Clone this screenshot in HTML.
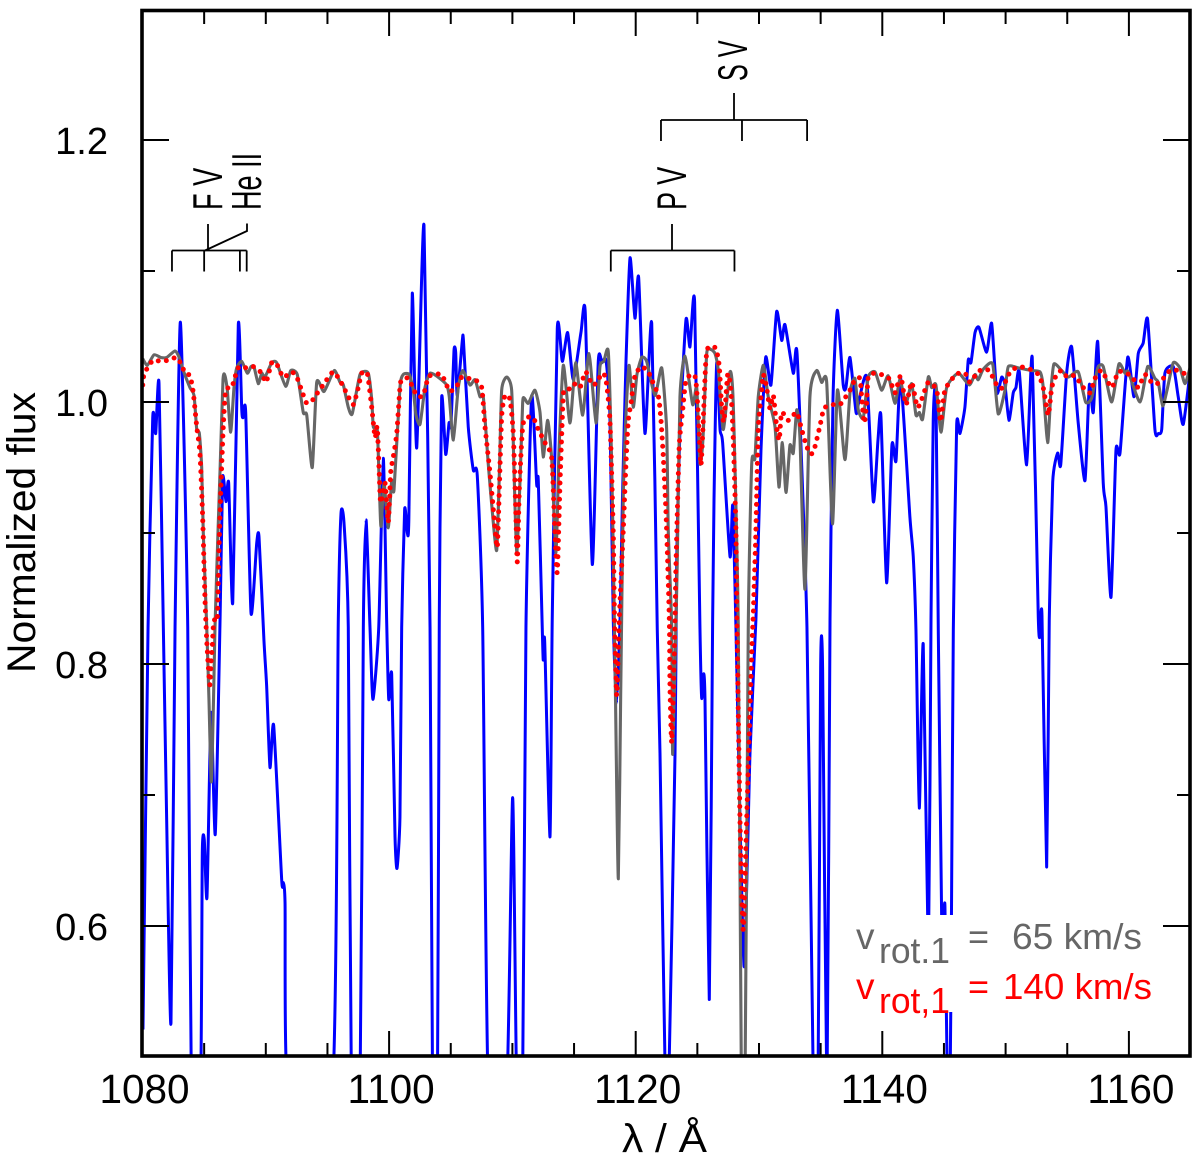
<!DOCTYPE html>
<html lang="en">
<head>
<meta charset="utf-8">
<title>Normalized flux spectrum</title>
<style>
html,body{margin:0;padding:0;background:#fff;width:1200px;height:1160px;overflow:hidden}
svg{display:block}
text{font-family:"Liberation Sans",sans-serif}
</style>
</head>
<body>
<svg id="chart" xmlns="http://www.w3.org/2000/svg" width="1200" height="1160" viewBox="0 0 1200 1160">
  <defs>
    <clipPath id="plot-clip"><rect x="142" y="11" width="1048" height="1045"/></clipPath>
  </defs>
  <rect x="0" y="0" width="1200" height="1160" fill="#fff"/>
  <g clip-path="url(#plot-clip)">
    <path id="series-blue" fill="none" stroke="#0000ff" stroke-width="3" stroke-linejoin="round"/>
    <path id="series-gray" fill="none" stroke="#666666" stroke-width="3.1" stroke-linejoin="round"/>
    <path id="series-red" fill="none" stroke="#ff0000" stroke-width="5" stroke-linecap="round" stroke-linejoin="round" stroke-dasharray="0 8.2"/>
  </g>
  <rect x="855" y="915" width="300" height="97" fill="#fff"/>
  <g id="ticks"></g>
  <g id="annotations"></g>
  <rect x="142" y="10.5" width="1048" height="1045.5" fill="none" stroke="#000" stroke-width="3.6"/>

  <text transform="translate(222,210) rotate(-90) scale(0.645,1)" font-size="42" fill="#000">F V</text>
  <text transform="translate(261,210) rotate(-90) scale(0.645,1)" font-size="42" fill="#000">He II</text>
  <text transform="translate(686,210) rotate(-90) scale(0.645,1)" font-size="42" fill="#000">P V</text>
  <text transform="translate(747,81) rotate(-90) scale(0.6,1)" font-size="42" fill="#000">S V</text>

  <text transform="translate(35,673) rotate(-90)" font-size="40" textLength="281" lengthAdjust="spacingAndGlyphs" fill="#000">Normalized flux</text>
  <text x="622" y="1152" font-size="40" textLength="85" lengthAdjust="spacingAndGlyphs" fill="#000">λ / Å</text>

  <g fill="#666666">
    <text x="856" y="949" font-size="37">v</text>
    <text x="879" y="963" font-size="36" textLength="71" lengthAdjust="spacingAndGlyphs">rot.1</text>
    <text x="968" y="949" font-size="36">=</text>
    <text x="1012" y="949" font-size="36" textLength="130" lengthAdjust="spacingAndGlyphs">65 km/s</text>
  </g>
  <g fill="#ff0000">
    <text x="856" y="999" font-size="37">v</text>
    <text x="879" y="1013" font-size="36" textLength="71" lengthAdjust="spacingAndGlyphs">rot,1</text>
    <text x="968" y="999" font-size="36">=</text>
    <text x="1003" y="999" font-size="36" textLength="149" lengthAdjust="spacingAndGlyphs">140 km/s</text>
  </g>
</svg>
<script>
const blueWave = [
1080.04,1080.45,1080.83,1081.07,1081.34,1081.69,1081.96,1082.31,1082.64,1083.07,
1083.67,1083.97,1084.70,1084.85,1085.01,1085.23,1085.56,1085.90,1086.29,1086.50,
1086.77,1086.99,1087.32,1087.77,1088.05,1088.15,1088.37,1088.80,1089.26,1089.45,
1089.85,1090.07,1090.34,1090.64,1091.29,1091.42,1091.56,1091.84,1095.37,1095.88,
1096.10,1096.34,1096.69,1096.95,1097.64,1097.91,1098.13,1098.45,1098.69,1099.16,
1099.53,1099.80,1099.97,1100.21,1100.48,1100.64,1100.88,1101.02,1101.26,1101.48,
1101.60,1101.88,1102.24,1102.83,1103.32,1103.53,1103.92,1104.07,1104.26,1104.59,
1104.86,1105.02,1105.26,1105.40,1105.53,1105.94,1106.03,1106.42,1106.83,1107.15,
1107.59,1108.06,1109.52,1110.02,1110.36,1110.82,1111.10,1111.56,1111.97,1112.10,
1112.42,1112.50,1112.62,1113.05,1113.23,1113.64,1114.05,1114.48,1114.94,1115.56,
1115.91,1116.48,1116.96,1117.26,1117.59,1117.91,1118.18,1118.46,1118.73,1118.93,
1119.21,1119.54,1119.94,1120.24,1120.75,1121.30,1121.75,1121.97,1122.42,1122.66,
1123.19,1123.32,1123.59,1124.08,1124.40,1124.78,1125.21,1125.35,1125.48,1125.62,
1125.97,1126.24,1126.35,1126.57,1126.84,1127.05,1127.65,1127.87,1128.13,1128.46,
1128.81,1129.27,1129.75,1130.16,1130.54,1130.97,1131.43,1131.84,1132.11,1132.78,
1133.10,1133.89,1134.42,1134.78,1135.00,1135.16,1135.51,1135.76,1136.00,1136.35,
1136.83,1137.05,1137.38,1137.87,1138.07,1138.73,1139.27,1139.65,1139.89,1140.35,
1140.78,1141.11,1141.49,1142.24,1142.51,1142.73,1143.00,1143.32,1143.74,1143.95,
1144.13,1144.35,1144.54,1144.81,1144.92,1145.08,1145.29,1145.49,1145.61,1145.76,
1146.03,1146.30,1146.70,1146.97,1147.19,1147.52,1147.84,1148.46,1148.87,1149.28,
1149.68,1149.95,1150.27,1150.62,1150.84,1151.11,1151.71,1152.16,1152.65,1152.79,
1152.95,1153.33,1153.54,1153.82,1154.22,1154.47,1154.95,1155.36,1155.89,1156.44,
1156.79,1157.11,1157.47,1157.92,1158.14,1158.55,1158.95,1159.28,1159.90,1160.41,
1160.76,1161.16,1161.52,1162.11,1162.38,1162.66,1162.92,1163.60,1164.00,1164.41,
1165.01];
const blueFlux = [
.521,.828,.988,.976,1.014,.828,.681,.526,.828,1.061,
.828,.47,.47,.656,.666,.622,.763,.670,.834,.942,
.924,.938,.847,1.059,.994,.988,.992,.839,.892,.897,
.818,.783,.721,.753,.635,.633,.618,.47,.47,.834,
.915,.908,.828,.47,.47,.828,.910,.828,.773,.828,
.957,.834,.773,.792,.668,.644,.683,.828,.918,.900,
.910,1.083,.965,1.135,.828,.47,.47,.834,1.003,.960,
.984,.982,1.039,1.038,1.005,1.047,1.047,.981,.948,.944,
.828,.47,.47,.698,.47,.47,.828,1.004,.937,.940,
.828,.803,.817,.668,.834,1.056,1.031,1.053,1.017,1.053,
1.068,.876,1.030,1.030,1.032,.989,.834,.770,.834,.928,
1.030,1.110,1.064,1.095,.976,1.060,.826,.732,.47,.47,
.732,.877,.979,1.063,1.042,1.076,.828,.774,.792,.773,
.544,.834,.925,1.030,.979,.969,.882,.921,.828,.681,
.569,.732,.834,.963,1.034,1.013,1.069,1.047,1.059,1.022,
1.035,.828,.47,.47,.798,.796,.47,.834,1.002,1.070,
1.013,1.011,1.034,.992,.999,1.019,.924,.971,.989,.862,
.967,.955,1.018,.912,.882,.826,.690,.815,.574,.834,
.986,1.007,.826,.609,.593,.615,.47,.47,.609,.826,
.982,.976,.996,1.032,1.030,1.053,1.057,1.038,1.060,1.007,
1.019,1.013,.986,1.007,1.011,1.023,.952,1.034,.836,.821,
.837,.645,.834,.939,.961,.952,1.022,1.042,.984,.940,
1.013,.992,1.046,.938,.920,.851,.963,.961,1.034,1.004,
1.037,1.045,1.063,.979,.976,.979,1.022,1.027,1.004,.983,
1.027];
const grayWave = [
1080.02,1080.39,1080.93,1081.48,1081.96,1082.64,1082.98,1083.31,1083.85,1084.18,
1084.40,1084.61,1084.80,1084.93,1085.21,1085.39,1085.58,1085.76,1085.88,1086.12,
1086.29,1086.53,1086.69,1086.88,1087.15,1087.42,1087.64,1088.05,1088.50,1088.80,
1089.04,1089.39,1089.67,1089.93,1090.48,1090.88,1091.61,1092.02,1092.55,1093.04,
1093.32,1093.77,1094.13,1094.72,1095.55,1096.02,1096.29,1096.69,1097.01,1097.64,
1098.31,1098.59,1098.72,1099.04,1099.20,1099.34,1099.59,1099.93,1100.21,1100.40,
1100.88,1101.15,1101.64,1101.96,1102.18,1102.51,1102.91,1103.32,1103.97,1104.67,
1104.88,1105.21,1105.61,1105.97,1106.56,1106.97,1107.37,1107.64,1108.04,1108.43,
1108.73,1108.95,1109.13,1109.54,1109.94,1110.13,1110.35,1110.62,1110.83,1110.96,
1111.29,1111.83,1112.24,1112.50,1112.86,1113.19,1113.54,1113.78,1114.13,1114.67,
1115.13,1115.70,1116.21,1116.78,1117.10,1117.42,1117.78,1118.05,1118.24,1118.36,
1118.59,1118.78,1118.99,1119.21,1119.46,1119.80,1120.10,1120.49,1120.89,1121.56,
1122.11,1122.51,1122.64,1122.92,1123.00,1123.27,1123.37,1123.59,1124.00,1124.62,
1124.95,1125.21,1125.45,1125.76,1126.10,1126.43,1126.70,1127.10,1127.65,1127.91,
1128.32,1128.58,1128.86,1129.13,1129.41,1129.67,1129.94,1130.35,1130.75,1131.30,
1131.62,1131.89,1132.19,1132.51,1132.78,1133.06,1133.32,1133.73,1134.13,1134.68,
1135.08,1135.49,1135.96,1136.36,1136.97,1137.38,1137.78,1138.05,1138.46,1138.86,
1139.41,1139.95,1140.48,1141.03,1141.43,1141.92,1142.38,1142.73,1143.01,1143.27,
1143.73,1144.00,1144.35,1144.76,1145.22,1146.16,1147.05,1147.52,1147.78,1148.19,
1148.95,1149.40,1149.95,1150.22,1151.03,1152.11,1152.79,1153.03,1153.41,1153.68,
1153.92,1154.55,1155.08,1155.89,1156.49,1156.98,1157.47,1157.92,1158.60,1159.19,
1159.68,1159.95,1160.90,1161.52,1162.11,1162.38,1162.74,1163.09,1163.60,1164.14,
1164.55,1164.95];
const grayFlux = [
1.033,1.028,1.036,1.034,1.034,1.039,1.034,1.024,1.011,1.005,
.979,.976,.950,.900,.828,.773,.710,.773,.828,.900,
.948,1.017,1.020,1.009,.977,1.011,1.026,1.031,1.022,1.027,
1.027,1.014,1.022,1.019,1.030,1.030,1.012,1.024,1.021,.992,
.990,.950,1.015,1.008,1.024,1.015,1.013,.996,.991,1.021,
1.022,1.002,.981,.979,.938,.905,.938,.904,.940,.933,
1.011,1.021,1.021,1.009,.990,.983,1.011,1.022,1.019,1.013,
1.004,.971,1.011,1.024,1.013,1.017,1.004,1.004,.953,.910,
.887,.948,1.009,1.019,1.009,.948,.885,.940,.999,1.003,
.999,1.009,.992,.958,.986,.956,.885,.963,1.028,.984,
1.030,.990,1.037,.984,1.027,1.031,1.038,.953,.851,.775,
.636,.775,.928,.990,1.028,.996,1.021,1.034,1.031,1.005,
1.026,.979,.902,.828,.731,.834,.877,1.004,1.035,.998,
1.011,.953,.971,1.037,1.040,1.037,1.024,.979,1.023,.999,
.828,.47,.47,.828,.953,.957,1.004,1.028,1.004,.981,
.935,.969,.931,.967,.961,.994,.973,.857,1.004,1.024,
1.015,1.015,.907,1.009,.956,1.007,1.018,.994,.988,1.019,
1.023,1.009,1.020,.999,1.017,.999,1.014,.990,.992,.987,
1.019,1.011,1.013,.977,1.011,1.022,1.013,1.021,1.017,1.025,
1.029,.991,1.009,1.027,1.026,1.024,1.023,1.013,.969,1.009,
1.029,1.024,1.019,1.023,1.000,1.003,1.026,1.027,1.000,1.029,
1.022,1.023,1.000,1.027,1.018,1.015,.997,1.009,1.030,1.026,
1.014,1.026];
const redWave = [
1080.02,1080.12,1080.47,1080.88,1081.50,1082.15,1082.77,1083.18,1083.45,1083.85,
1084.12,1084.40,1084.66,1084.88,1085.07,1085.21,1085.34,1085.47,1085.56,1085.66,
1085.74,1085.88,1086.07,1086.20,1086.37,1086.55,1086.75,1087.23,1087.50,1087.83,
1088.45,1088.99,1089.67,1090.02,1090.48,1090.88,1091.42,1092.10,1092.51,1092.83,
1093.32,1093.85,1094.26,1094.66,1095.47,1096.16,1096.69,1097.10,1097.50,1097.78,
1098.23,1098.59,1098.86,1099.04,1099.20,1099.32,1099.67,1099.93,1100.13,1100.34,
1100.62,1100.88,1101.02,1101.56,1102.24,1102.77,1103.18,1103.72,1104.26,1104.61,
1104.94,1105.48,1105.89,1106.42,1106.97,1107.51,1107.78,1108.18,1108.53,1108.77,
1108.91,1109.13,1109.40,1109.80,1110.07,1110.29,1110.40,1110.56,1110.83,1111.16,
1111.69,1112.10,1112.64,1113.19,1113.45,1113.64,1113.86,1114.08,1114.18,1114.61,
1114.99,1115.48,1115.94,1116.48,1116.84,1117.29,1117.59,1117.91,1118.18,1118.28,
1118.46,1118.67,1118.99,1119.21,1119.40,1119.67,1119.80,1120.02,1120.49,1121.02,
1121.30,1121.83,1122.05,1122.24,1122.46,1122.64,1122.74,1122.78,1122.92,1123.10,
1123.19,1123.27,1123.53,1123.81,1124.05,1124.46,1124.86,1125.08,1125.29,1125.48,
1125.68,1125.89,1126.49,1126.78,1126.97,1127.16,1127.46,1127.70,1127.91,1128.13,
1128.21,1128.46,1128.72,1129.00,1129.41,1129.54,1129.75,1129.94,1130.22,1130.35,
1130.62,1130.89,1131.16,1131.43,1131.64,1131.84,1132.38,1133.06,1133.46,1133.87,
1134.22,1134.54,1134.95,1135.27,1135.89,1136.57,1137.38,1137.78,1138.19,1138.33,
1138.54,1138.73,1138.86,1139.41,1140.22,1140.62,1141.03,1141.49,1141.92,1142.38,
1142.84,1143.19,1143.73,1144.41,1144.73,1145.08,1145.98,1146.70,1147.11,1147.52,
1148.06,1148.68,1149.00,1149.40,1149.81,1150.13,1150.49,1151.11,1151.98,1152.65,
1153.05,1153.46,1153.74,1154.14,1154.55,1155.00,1155.63,1156.30,1156.84,1157.25,
1157.79,1158.60,1159.14,1159.82,1160.35,1160.76,1161.30,1161.93,1162.52,1163.33,
1164.00,1164.68,1165.03];
const redFlux = [
1.013,1.021,1.027,1.032,1.031,1.032,1.034,1.028,1.022,1.020,
1.007,.981,.961,.912,.849,.818,.798,.784,.801,.813,
.828,.835,.836,.887,.938,.981,1.009,1.011,1.019,1.027,
1.026,1.027,1.022,1.015,1.030,1.029,1.019,1.023,1.019,1.011,
.999,1.002,1.008,1.013,1.023,1.014,1.004,.998,1.011,1.022,
1.022,.996,.973,.981,.946,.923,.938,.908,.946,.958,
.976,1.011,1.017,1.018,1.005,1.005,1.019,1.021,1.021,1.014,
1.008,1.012,1.019,1.018,1.017,1.011,.981,.946,.910,.889,
.925,.989,1.005,1.002,.976,.912,.878,.933,.981,.988,
.988,.979,.969,.957,.900,.870,.938,.996,1.009,1.010,
1.014,1.011,1.023,1.013,1.015,1.022,1.017,.986,.900,.834,
.776,.834,.902,.953,.986,1.002,1.014,1.022,1.027,1.023,
1.017,1.005,.986,.958,.915,.864,.828,.783,.740,.796,
.834,.877,.966,.994,1.015,1.021,1.018,.989,.952,.986,
1.030,1.042,1.041,1.027,.996,.985,1.021,1.011,.973,.902,
.834,.681,.597,.681,.808,.839,.902,.979,1.009,1.021,
1.011,.995,1.005,.981,.971,.992,.986,.992,.979,.966,
.960,.966,.982,.995,.998,.998,1.009,1.017,1.018,1.003,
.984,.999,1.019,1.022,1.020,1.017,1.007,1.020,.998,1.015,
.996,1.002,1.015,1.009,.985,1.009,1.021,1.022,1.015,1.020,
1.025,1.024,1.018,1.011,1.011,1.019,1.024,1.027,1.025,1.021,
1.011,.990,1.011,1.021,1.024,1.019,1.020,1.011,1.007,1.018,
1.024,1.011,1.023,1.022,1.018,1.011,1.021,1.014,1.015,1.024,
1.024,1.021,1.022];

const xMajorTicks = [1080,1100,1120,1140,1160];
const xMinorTicks = [1085,1090,1095,1105,1110,1115,1125,1130,1135,1145,1150,1155];
const yMajorTicks = [0.6,0.8,1.0,1.2];
const yMinorTicks = [0.7,0.9,1.1];
const yTickLabels = ["0.6","0.8","1.0","1.2"];

const fvHeLines = [1082.39,1085.0,1087.9,1088.45];
const pvLines = [1117.98,1128.01];
const svLines = [1122.05,1128.62,1133.9];

const NS = "http://www.w3.org/2000/svg";
function xScale(w){ return 142.5 + (w - 1080) * 12.33; }
function yScale(f){ return 402 - (f - 1) * 1310; }

function make(tag, attrs, parent){
  const el = document.createElementNS(NS, tag);
  for (const k in attrs) el.setAttribute(k, attrs[k]);
  parent.appendChild(el);
  return el;
}

function smoothPath(wave, flux){
  const n = Math.min(wave.length, flux.length);
  const p = [];
  for (let i = 0; i < n; i++) p.push([xScale(wave[i]), yScale(flux[i])]);
  let d = "M" + p[0][0].toFixed(2) + " " + p[0][1].toFixed(2);
  const t = 1 / 10;
  for (let i = 0; i < n - 1; i++) {
    const a = p[Math.max(i - 1, 0)], b = p[i], c = p[i + 1], e = p[Math.min(i + 2, n - 1)];
    const c1x = b[0] + (c[0] - a[0]) * t, c1y = b[1] + (c[1] - a[1]) * t;
    const c2x = c[0] - (e[0] - b[0]) * t, c2y = c[1] - (e[1] - b[1]) * t;
    d += "C" + c1x.toFixed(2) + " " + c1y.toFixed(2) + " " + c2x.toFixed(2) + " " + c2y.toFixed(2) + " " + c[0].toFixed(2) + " " + c[1].toFixed(2);
  }
  return d;
}

document.getElementById("series-blue").setAttribute("d", smoothPath(blueWave, blueFlux));
document.getElementById("series-gray").setAttribute("d", smoothPath(grayWave, grayFlux));
document.getElementById("series-red").setAttribute("d", smoothPath(redWave, redFlux));

const tickGroup = document.getElementById("ticks");
const annGroup = document.getElementById("annotations");
const svgRoot = document.getElementById("chart");
const stroke = {stroke:"#000", "stroke-width":"2"};

function xTick(v, len, major){
  const x = xScale(v);
  const b = make("line", Object.assign({x1:x, x2:x, y1:1056, y2:1056 - len}, stroke), tickGroup);
  
  
  const t = make("line", Object.assign({x1:x, x2:x, y1:11, y2:11 + len}, stroke), tickGroup);
  
  
  if (major) {
    const lab = make("text", {x:x + 2, y:1103, "font-size":"40.5", "text-anchor":"middle", fill:"#000"}, svgRoot);
    lab.textContent = String(v);
    
    
  }
}
function yTick(v, len, label){
  const y = yScale(v);
  const l = make("line", Object.assign({x1:142, x2:142 + len, y1:y, y2:y}, stroke), tickGroup);
  
  
  const r = make("line", Object.assign({x1:1190, x2:1190 - len, y1:y, y2:y}, stroke), tickGroup);
  
  
  if (label) {
    const lab = make("text", {x:108, y:y + 14, "font-size":"38", "text-anchor":"end", fill:"#000"}, svgRoot);
    lab.textContent = label;
    
    
  }
}
xMajorTicks.forEach(v => xTick(v, 25, true));
xMinorTicks.forEach(v => xTick(v, 13, false));
yMajorTicks.forEach((v, i) => yTick(v, 27, yTickLabels[i]));
yMinorTicks.forEach(v => yTick(v, 13, null));

const annStroke = {stroke:"#000", "stroke-width":"1.8", fill:"none"};
function bracket(lines, topY, bottomY, name){
  const xs = lines.map(xScale);
  const h = make("line", Object.assign({x1:xs[0], x2:xs[xs.length - 1], y1:topY, y2:topY}, annStroke), annGroup);
  
  
  xs.forEach(function(x){
    const v = make("line", Object.assign({x1:x, x2:x, y1:topY, y2:bottomY}, annStroke), annGroup);
    
    
  });
}
bracket(fvHeLines, 250.5, 271.5, 'fv-he-bracket');
bracket(pvLines, 250.5, 271.5, 'pv-bracket');
bracket(svLines, 120, 141, 'sv-bracket');

const stemFv = make("polyline", Object.assign({points:"208,250.5 208,224"}, annStroke), annGroup);


const stemHe = make("polyline", Object.assign({points:"205,250.5 247,231 247,223.5"}, annStroke), annGroup);


const stemPv = make("polyline", Object.assign({points:"672,250.5 672,224"}, annStroke), annGroup);


const stemSv = make("polyline", Object.assign({points:"734,120 734,93"}, annStroke), annGroup);


</script>
</body>
</html>
